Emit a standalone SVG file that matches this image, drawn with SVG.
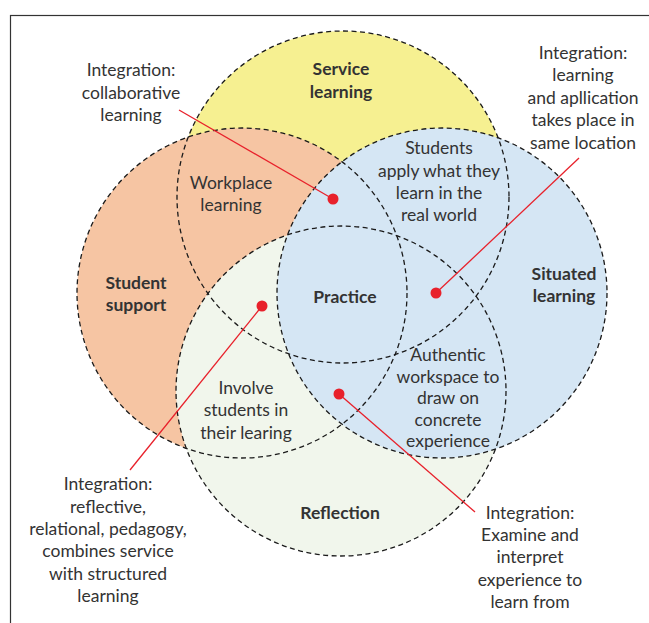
<svg xmlns="http://www.w3.org/2000/svg" width="649" height="623" viewBox="0 0 649 623">
<style>
.t{font-family:Lato,"Liberation Sans",sans-serif;font-size:17.5px;fill:#333;text-anchor:middle}
.b{font-weight:bold}
.ring{fill:none;stroke:#1a1a1a;stroke-width:1.3;stroke-dasharray:5 3.5}
.lead{stroke:#e8212b;stroke-width:1.3;fill:none}
.dot{fill:#e8212b}
</style>
<rect x="0" y="0" width="649" height="623" fill="#fff"/>
<rect x="10.5" y="15.5" width="700" height="700" fill="#fff" stroke="#333" stroke-width="1.2"/>
<g id="service-learning">
<circle cx="343" cy="197" r="166" fill="#f6f091"/>
<text class="t b" x="341" y="75">Service<tspan x="341" y="98">learning</tspan></text>
</g>
<g id="student-support">
<circle cx="242" cy="293" r="165" fill="#f6c5a3"/>
<text class="t b" x="136" y="289">Student<tspan x="136" y="311">support</tspan></text>
</g>
<g id="reflection">
<circle cx="341" cy="391" r="165" fill="#f1f6ec"/>
<text class="t b" x="340" y="519">Reflection</text>
</g>
<g id="situated-learning">
<circle cx="442" cy="293" r="165" fill="#d5e6f4"/>
<text class="t b" x="564" y="280">Situated<tspan x="564" y="302">learning</tspan></text>
</g>
<g id="outlines">
<circle class="ring" cx="343" cy="197" r="166"/>
<circle class="ring" cx="242" cy="293" r="165"/>
<circle class="ring" cx="341" cy="391" r="165"/>
<circle class="ring" cx="442" cy="293" r="165"/>
</g>
<g id="workplace-learning">
<text class="t" x="231" y="189">Workplace<tspan x="231" y="210.5">learning</tspan></text>
</g>
<g id="students-apply">
<text class="t" x="439" y="154">Students<tspan x="439" y="176.5">apply what they</tspan><tspan x="439" y="199">learn in the</tspan><tspan x="439" y="221">real world</tspan></text>
</g>
<g id="practice">
<text class="t b" x="345" y="303">Practice</text>
</g>
<g id="authentic-workspace">
<text class="t" x="448" y="361">Authentic<tspan x="448" y="383">workspace to</tspan><tspan x="448" y="404">draw on</tspan><tspan x="448" y="425.5">concrete</tspan><tspan x="448" y="447">experience</tspan></text>
</g>
<g id="involve-students">
<text class="t" x="246" y="394">Involve<tspan x="246" y="416">students in</tspan><tspan x="246" y="439">their learing</tspan></text>
</g>
<g id="connectors">
<line class="lead" x1="179" y1="110" x2="333" y2="199"/>
<line class="lead" x1="579" y1="158" x2="436" y2="293"/>
<line class="lead" x1="130" y1="470" x2="262" y2="306"/>
<line class="lead" x1="475" y1="512" x2="339" y2="394"/>
<circle class="dot" cx="333" cy="199" r="5.5"/>
<circle class="dot" cx="436" cy="293" r="5.5"/>
<circle class="dot" cx="262" cy="306" r="5.5"/>
<circle class="dot" cx="339" cy="394" r="5.5"/>
</g>
<g id="note-collaborative">
<text class="t" x="131" y="76">Integration:<tspan x="131" y="98.5">collaborative</tspan><tspan x="131" y="121">learning</tspan></text>
</g>
<g id="note-location">
<text class="t" x="583" y="58.5">Integration:<tspan x="583" y="81">learning</tspan><tspan x="583" y="104">and apllication</tspan><tspan x="583" y="126">takes place in</tspan><tspan x="583" y="148.5">same location</tspan></text>
</g>
<g id="note-reflective">
<text class="t" x="108" y="490">Integration:<tspan x="108" y="512.5">reflective,</tspan><tspan x="108" y="535">relational, pedagogy,</tspan><tspan x="108" y="557">combines service</tspan><tspan x="108" y="580">with structured</tspan><tspan x="108" y="602">learning</tspan></text>
</g>
<g id="note-examine">
<text class="t" x="530" y="519">Integration:<tspan x="530" y="541">Examine and</tspan><tspan x="530" y="563">interpret</tspan><tspan x="530" y="586">experience to</tspan><tspan x="530" y="608">learn from</tspan></text>
</g>
</svg>
